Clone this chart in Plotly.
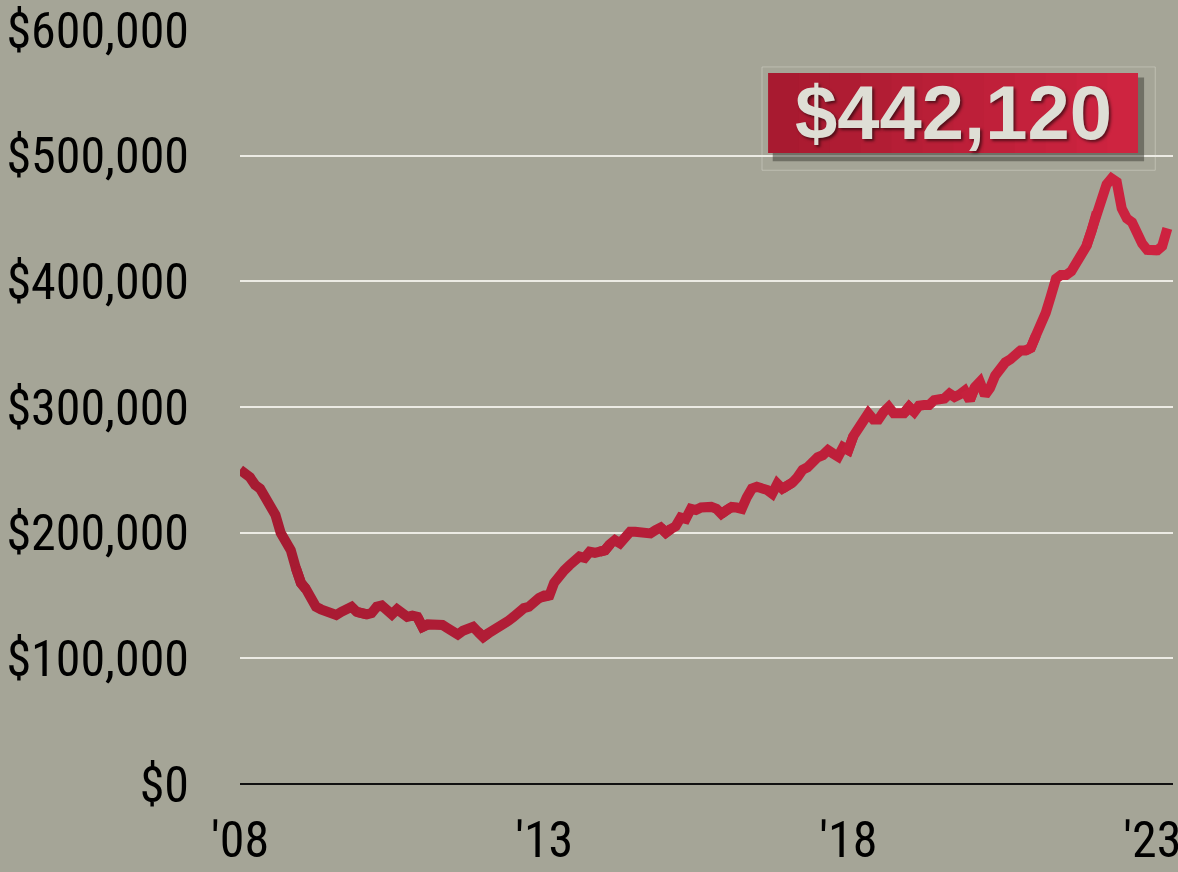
import pandas as pd
import plotly.graph_objects as go

# Median price, monthly from Jan 2008 to Apr 2023
values_k = [
    # 2008
    250, 247, 244, 238, 235, 228, 220, 214, 200, 192, 186, 172,
    # 2009
    160, 155, 148, 141, 139, 138, 137, 134.5, 137, 139, 141, 137,
    # 2010
    135, 135, 136, 141, 142, 139, 135, 139, 136, 133, 134, 133,
    # 2011
    125, 127, 127, 126, 126.5, 124, 121, 119, 122, 124, 125, 121,
    # 2012
    117, 120, 122, 126, 128, 130, 133, 137, 140, 141, 145, 148,
    # 2013
    150, 150, 160, 166, 170, 174, 179, 181, 180, 184.8, 184, 185,
    # 2014
    186, 191, 194, 191.5, 196, 200.7, 200.7, 200.7, 201, 199.4, 202, 204,
    # 2015
    200, 203, 205, 212, 211, 219, 218, 220, 220.5, 220.5, 219, 215,
    # 2016
    218, 220.5, 220, 219, 228, 235, 236.5, 236, 234, 231, 239, 235,
    # 2017
    237, 240, 244, 250, 252, 257, 260, 261.7, 265.7, 263, 260.5, 268,
    # 2018
    265.7, 277, 283, 290, 294.9, 290, 290, 296, 300, 295, 295, 295,
    # 2019
    300, 296, 301, 301.5, 301.5, 305.5, 306, 306.8, 310.7, 308, 310, 313,
    # 2020
    305.5, 316, 320, 309.5, 315, 325, 331, 335.5, 338, 341.5, 345, 345,
    # 2021
    347, 357, 365, 375, 388, 402, 405, 405, 408, 415, 422, 428,
    # 2022
    440, 455, 467, 477, 481.8, 479, 458, 450, 447, 436, 430, 425,
    # 2023
    424.8, 424.8, 428, 442.12,
]
values = [v * 1000 for v in values_k]
dates = pd.date_range("2008-01-01", periods=len(values), freq="MS")

x_tick_vals = ["2008-01-01", "2013-01-01", "2018-01-01", "2023-01-01"]
x_tick_text = ["'08", "'13", "'18", "'23"]
y_tick_vals = [0, 100000, 200000, 300000, 400000, 500000, 600000]
y_tick_text = ["$0", "$100,000", "$200,000", "$300,000", "$400,000", "$500,000", "$600,000"]
callout_text = "$442,120"

BG = "#a5a597"
FONT = "Noto Sans Condensed, Roboto Condensed, Open Sans Condensed, DejaVu Sans Condensed, sans-serif"
TICK_SIZE = 50

fig = go.Figure()

# line drawn in yearly pieces (overlapping by one point on each side) so its colour
# shifts from deep to brighter red, left to right
line_c0 = (166, 27, 50)
line_c1 = (206, 34, 64)
n = len(values)
seg = 12
starts = list(range(0, n - 1, seg))
for j, s in enumerate(starts):
    a = max(s - 1, 0)
    e = min(s + seg + 1, n - 1)
    t = j / max(len(starts) - 1, 1)
    col = "rgb(%d,%d,%d)" % tuple(int(round(line_c0[k] + (line_c1[k] - line_c0[k]) * t)) for k in range(3))
    fig.add_trace(go.Scatter(
        x=dates[a:e + 1], y=values[a:e + 1], mode="lines",
        line=dict(color=col, width=10, shape="linear"),
        hoverinfo="skip",
    ))

fig.update_layout(
    width=1178, height=872,
    paper_bgcolor=BG, plot_bgcolor=BG,
    margin=dict(l=240, r=5, t=30, b=88, autoexpand=False),
    showlegend=False,
    font=dict(family=FONT, size=TICK_SIZE, color="#000000"),
    xaxis=dict(
        type="date",
        range=["2008-01-01", "2023-05-05"],
        tickvals=x_tick_vals, ticktext=x_tick_text,
        showgrid=False, zeroline=False, showline=False,
        ticks="", ticklabelstandoff=22, ticklabeloverflow="allow",
        tickfont=dict(family=FONT, size=TICK_SIZE, color="#000000"),
        fixedrange=True,
    ),
    yaxis=dict(
        range=[0, 600000],
        tickvals=y_tick_vals, ticktext=y_tick_text,
        showgrid=True, gridcolor="#ecebe4", gridwidth=2,
        zeroline=True, zerolinecolor="#111111", zerolinewidth=2,
        showline=False, ticks="", ticklabelstandoff=50, ticklabeloverflow="allow",
        tickfont=dict(family=FONT, size=TICK_SIZE, color="#000000"),
        fixedrange=True,
    ),
)

# callout box: faint frame, drop shadow, red box
fig.add_shape(type="rect", xref="paper", yref="paper",
              x0=0.5595, x1=0.981, y0=0.814, y1=0.951,
              line=dict(color="rgba(235,235,225,0.35)", width=1),
              fillcolor="rgba(0,0,0,0)", layer="above")
fig.add_shape(type="rect", xref="paper", yref="paper",
              x0=0.571, x1=0.969, y0=0.826, y1=0.937,
              line=dict(width=0), fillcolor="rgba(70,70,60,0.55)", layer="above")
n_strips = 12
x_start, x_end = 0.566, 0.9625
c0 = (168, 26, 48)
c1 = (206, 36, 64)
for i in range(n_strips):
    t = i / (n_strips - 1)
    col = tuple(int(round(c0[k] + (c1[k] - c0[k]) * t)) for k in range(3))
    xa = x_start + (x_end - x_start) * i / n_strips
    xb = x_start + (x_end - x_start) * (i + 1) / n_strips + 0.001
    fig.add_shape(type="rect", xref="paper", yref="paper",
                  x0=xa, x1=min(xb, x_end), y0=0.837, y1=0.943,
                  line=dict(width=0), fillcolor="rgb(%d,%d,%d)" % col, layer="above")

fig.add_annotation(
    xref="paper", yref="paper", x=(x_start + x_end) / 2, y=0.89,
    text="<b>%s</b>" % callout_text, showarrow=False,
    xanchor="center", yanchor="middle",
    font=dict(family="Liberation Sans, Arial, sans-serif", size=76, color="#deded5",
              shadow="2px 2px 3px rgba(0,0,0,0.55)"),
)

# remove the page's default body margin so the chart fills the window like the reference
fig.write_html(
    "out.html",
    config={"displayModeBar": False},
    post_script="document.body.style.margin='0';document.body.style.background='%s';" % BG,
)
